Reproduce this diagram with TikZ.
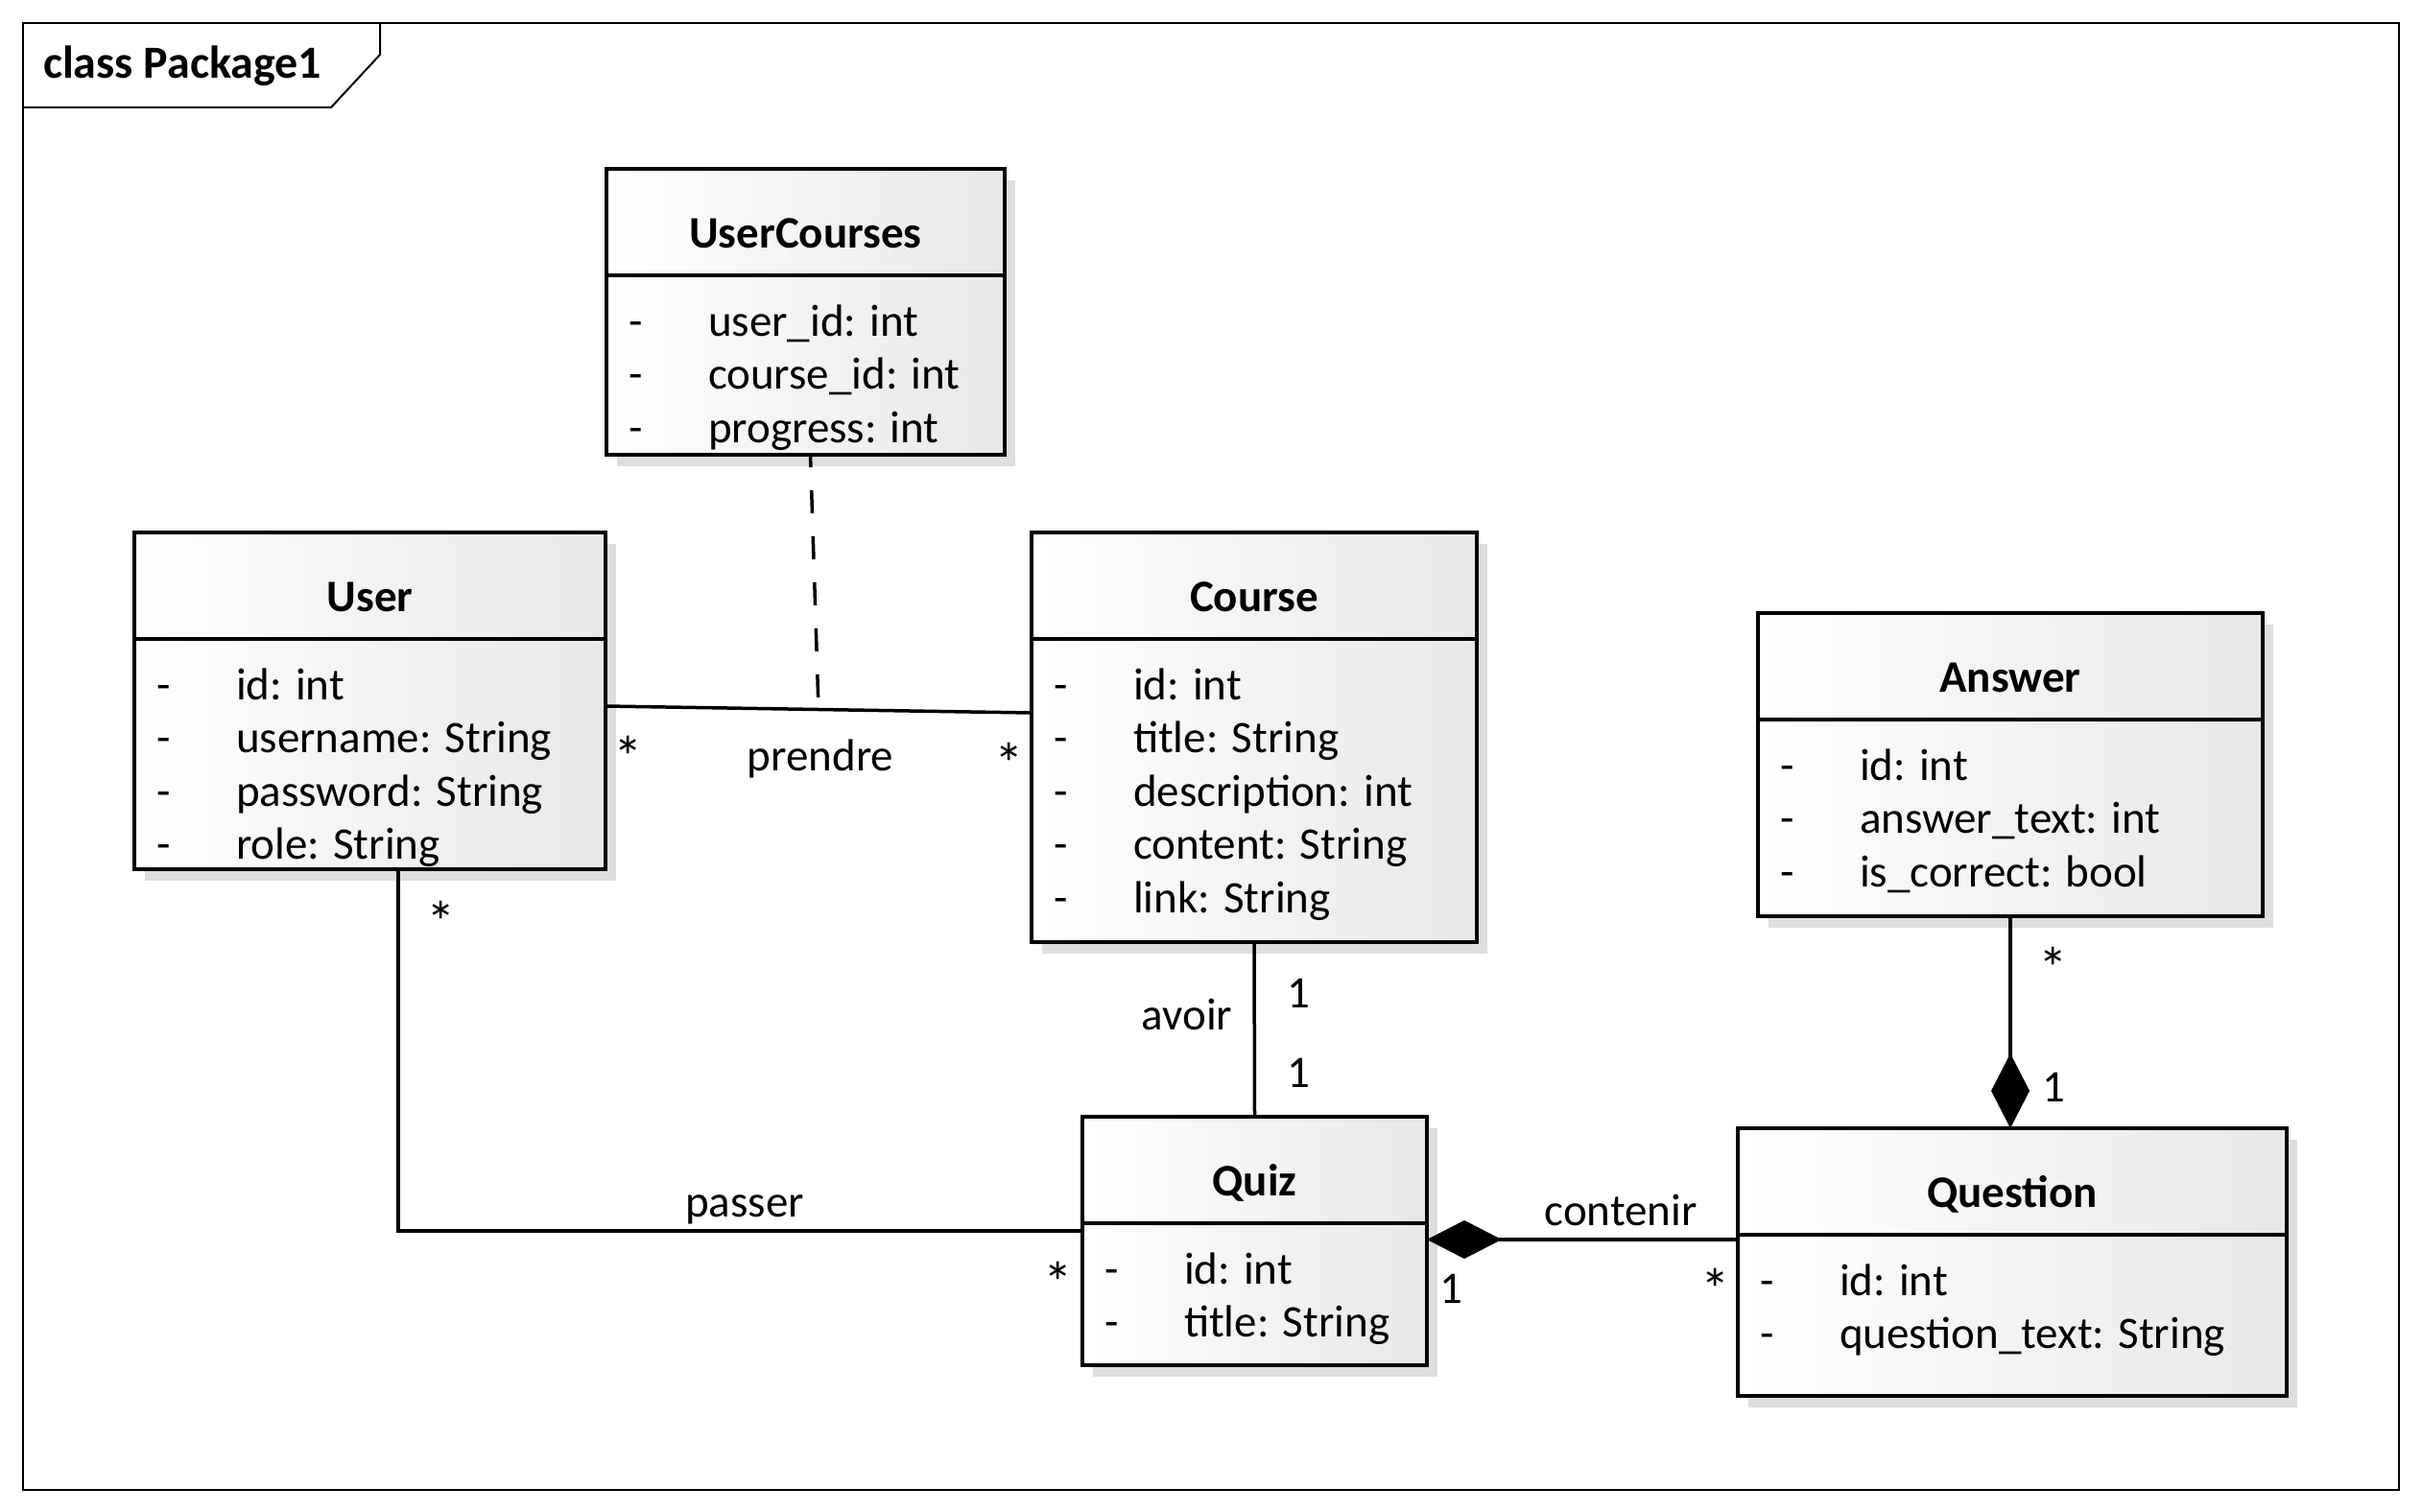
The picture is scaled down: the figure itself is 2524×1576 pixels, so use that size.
\documentclass[tikz,border=0pt]{standalone}
\usepackage{fontspec}
\setmainfont{Carlito}
\usetikzlibrary{calc,shadows,arrows.meta}

\definecolor{boxgray}{RGB}{232,232,232}
\definecolor{shadowgray}{RGB}{222,222,222}

\tikzset{
  txt/.style={font=\fontsize{47pt}{56pt}\selectfont, inner sep=0pt, outer sep=0pt, text=black},
  ttl/.style={txt, font=\fontsize{47pt}{56pt}\selectfont\bfseries, anchor=base},
  attr/.style={txt, anchor=base west},
  lbl/.style={txt, anchor=base},
  star/.style={txt, font=\fontsize{61pt}{70pt}\selectfont, anchor=base},
  classframe/.style={rectangle, draw=black, line width=4pt, left color=white, right color=boxgray,
    inner sep=0pt, outer sep=0pt, anchor=north west,
    drop shadow={shadow xshift=11pt, shadow yshift=-12pt, fill=shadowgray, opacity=1}},
  boxline/.style={line width=4pt},
  assoc/.style={line width=3.5pt},
  assocdash/.style={line width=3.5pt, dash pattern=on 24pt off 24pt, dash phase=11pt},
  composition/.style={-{Diamond[length=78pt,width=40pt,fill=black]}},
  frameline/.style={line width=2pt},
}

% #1 name, #2 x, #3 y (top left), #4 width, #5 height, #6 class name, #7 attributes
\newcommand{\umlclass}[7]{%
  \node[classframe, minimum width=#4pt, minimum height=#5pt] (#1) at (#2,#3) {};
  \draw[boxline] ($(#1.north west)+(0,111)$) -- ($(#1.north east)+(0,111)$);
  \node[ttl] (#1-title) at ($(#1.north)+(0,82)$) {#6};
  \foreach \a [count=\i] in {#7}{%
    \node[attr] (#1-dash-\i) at ($(#1.north west)+(23,{174+55.5*(\i-1)})$) {-};
    \node[attr] (#1-attr-\i) at ($(#1.north west)+(106,{174+55.5*(\i-1)})$) {\a};
  }%
}

\begin{document}
\begin{tikzpicture}[x=1pt,y=-1pt]
  \fill[white] (0,0) rectangle (2524,1576);
  \useasboundingbox (0,0) rectangle (2524,1576);

  % package frame with its name tab
  \draw[frameline] (24,24) rectangle (2500,1553);
  \draw[frameline] (24,112) -- (345,112) -- (396,57) -- (396,24);
  \node[txt, font=\fontsize{48pt}{56pt}\selectfont\bfseries, anchor=base west] (frame-title) at (45,82) {class Package1};

  % classes
  \umlclass{uc}{632}{176}{415}{298}{UserCourses}{user\_id: int, course\_id: int, progress: int}
  \umlclass{user}{140}{555}{491}{351}{User}{id: int, username: String, password: String, role: String}
  \umlclass{course}{1075}{555}{464}{427}{Course}{id: int, title: String, description: int, content: String, link: String}
  \umlclass{answer}{1832}{639}{526}{316}{Answer}{id: int, answer\_text: int, is\_correct: bool}
  \umlclass{quiz}{1128}{1164}{359}{259}{Quiz}{id: int, title: String}
  \umlclass{question}{1811}{1176}{572}{279}{Question}{id: int, question\_text: String}

  % associations
  \draw[assoc] ($(user.north east)+(0,181)$) -- coordinate[pos=0.5] (ucmid) ($(course.north west)+(0,188)$);
  \draw[assocdash] ($(uc.south)+(5,0)$) -- (ucmid);
  \draw[assoc] ($(user.south)+(29.5,0)$) |- ($(quiz.north west)+(0,119)$);
  \draw[assoc] (course.south) -- (quiz.north);
  \draw[assoc, composition] ($(question.north west)+(0,116)$) -- ($(quiz.north east)+(0,128)$);
  \draw[assoc, composition] (answer.south) -- (answer.south |- question.north);

  % association names and multiplicities
  \node[lbl] (l-prendre) at (855,803) {prendre};
  \node[star] (m-user-course) at (655,810) {*};
  \node[star] (m-course-user) at (1052,817) {*};
  \node[lbl] (l-passer) at (776,1268) {passer};
  \node[star] (m-user-quiz) at (460,982) {*};
  \node[star] (m-quiz-user) at (1103,1358) {*};
  \node[lbl] (l-avoir) at (1237,1073) {avoir};
  \node[lbl] (m-course-quiz) at (1353,1050) {1};
  \node[lbl] (m-quiz-course) at (1353,1133) {1};
  \node[lbl] (l-contenir) at (1689,1277) {contenir};
  \node[lbl] (m-quiz-question) at (1512,1358) {1};
  \node[star] (m-question-quiz) at (1788,1365) {*};
  \node[star] (m-answer-question) at (2140,1030) {*};
  \node[lbl] (m-question-answer) at (2140,1148) {1};
\end{tikzpicture}
\end{document}
